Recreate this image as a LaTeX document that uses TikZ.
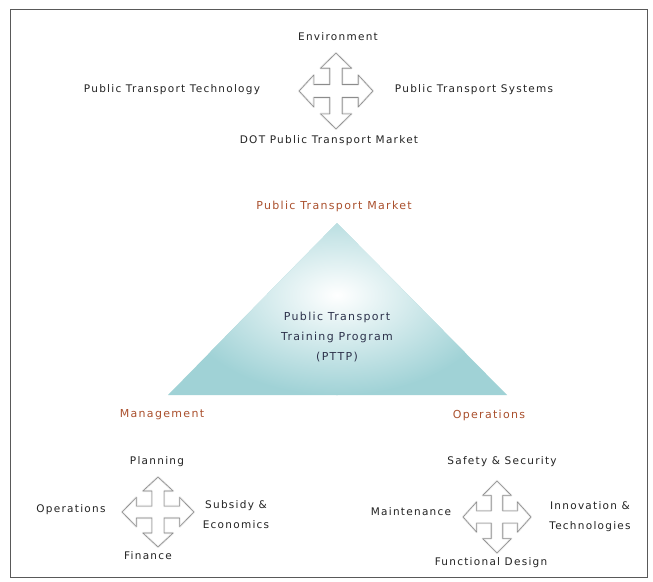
\documentclass[tikz,border=0pt]{standalone}
\usepackage{fontspec}
\newfontfamily\lblfont{DejaVu Sans}[LetterSpace=12]
\definecolor{titlec}{RGB}{170,80,45}
\definecolor{bodyc}{RGB}{45,50,75}
\definecolor{tric}{RGB}{160,210,214}
\definecolor{txtc}{RGB}{35,35,35}
\tikzset{
  lbl/.style={font=\lblfont\fontsize{10.5}{20}\selectfont, text=txtc, inner sep=0pt},
  ttl/.style={font=\lblfont\fontsize{11}{20}\selectfont, text=titlec, inner sep=0pt},
  bodytxt/.style={font=\lblfont\fontsize{11}{20}\selectfont, text=bodyc, inner sep=0pt, align=center},
  quadp/.style={insert path={(0,-1)--(0.42,-0.6)--(0.17,-0.6)--(0.17,-0.17)--(0.6,-0.17)--(0.6,-0.42)--(1,0)--(0.6,0.42)--(0.6,0.17)--(0.17,0.17)--(0.17,0.6)--(0.42,0.6)--(0,1)--(-0.42,0.6)--(-0.17,0.6)--(-0.17,0.17)--(-0.6,0.17)--(-0.6,0.42)--(-1,0)--(-0.6,-0.42)--(-0.6,-0.17)--(-0.17,-0.17)--(-0.17,-0.6)--(-0.42,-0.6)--cycle}},
  quad/.pic={
    \draw[line width=2.2pt, black!8, line join=round, quadp];
    \draw[line width=0.6pt, black!45, line join=round, quadp];
  }
}
\begin{document}
\begin{tikzpicture}[x=1pt,y=-1pt]
\useasboundingbox (0,0) rectangle (653,581);
\fill[white] (0,0) rectangle (653,581);
\draw[black!65, line width=0.8pt] (10,9) rectangle (647,577);

% top cluster
\pic[xscale=37,yscale=38] (q1) at (336,91) {quad};
\node[lbl] (env) at (338,37) {Environment};
\node[lbl] (ptt) at (172,90) {Public Transport Technology};
\node[lbl] (pts) at (474,90) {Public Transport Systems};
\node[lbl] (dot) at (329,141) {DOT Public Transport Market};

% triangle
\coordinate (apex) at (337,223);
\coordinate (bl) at (168,395);
\coordinate (br) at (507,395);
\fill[tric] (apex)--(bl)--(br)--cycle;
\begin{scope}
  \clip (apex)--(bl)--(br)--cycle;
  \shade[inner color=white, outer color=tric] (337,295) ellipse (160 and 100);
\end{scope}
\node[ttl] (ptm) at (334,206) {Public Transport Market};
\node[bodytxt] (pttp) at (337,337) {Public Transport\\Training Program\\(PTTP)};
\node[ttl] (mgmt) at (162,415) {Management};
\node[ttl] (ops) at (489,415) {Operations};

% bottom-left cluster
\pic[xscale=36,yscale=35] (q2) at (158,512) {quad};
\node[lbl] (plan) at (157,462) {Planning};
\node[lbl] (opl) at (71,510) {Operations};
\node[lbl, align=center] (sub) at (236,515) {Subsidy \&\\Economics};
\node[lbl] (fin) at (148,556) {Finance};

% bottom-right cluster
\pic[xscale=34,yscale=36] (q3) at (497,517) {quad};
\node[lbl] (safe) at (502,462) {Safety \& Security};
\node[lbl] (mnt) at (411,512) {Maintenance};
\node[lbl, align=center] (innov) at (590,517) {Innovation \&\\Technologies};
\node[lbl] (func) at (491,563) {Functional Design};
\end{tikzpicture}
\end{document}
